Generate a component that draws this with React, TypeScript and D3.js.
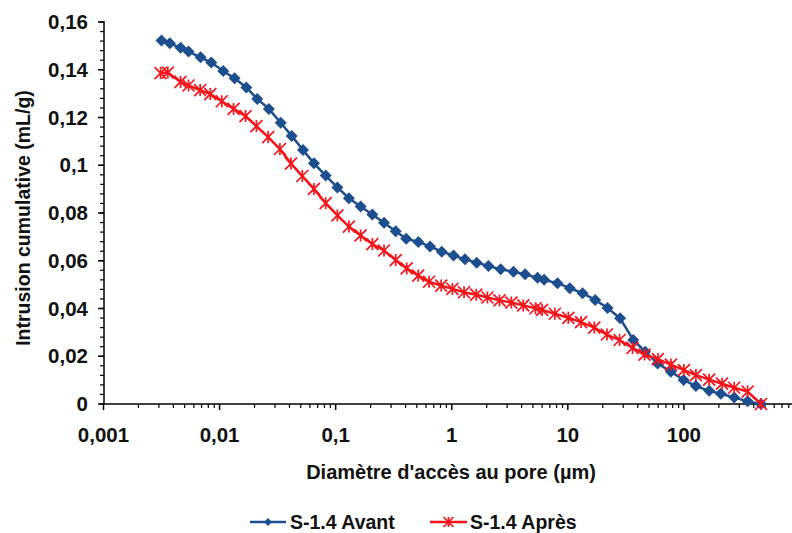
import React from 'react';
import * as d3 from 'd3';

const avantDiam = [0.00316, 0.00373, 0.00461, 0.0054, 0.00686, 0.00848, 0.01076, 0.01346, 0.017, 0.0211, 0.0266, 0.0336, 0.0418, 0.0523, 0.065, 0.082, 0.1035, 0.13, 0.164, 0.207, 0.261, 0.329, 0.405, 0.516, 0.65, 0.82, 1.035, 1.3, 1.64, 2.07, 2.64, 3.4, 4.28, 5.48, 6.25, 8.15, 10.4, 13.4, 17.2, 22.0, 28.2, 36.6, 46.4, 59.3, 77.2, 99.4, 126.8, 165, 208, 271, 354, 461];
const avantVol = [0.1522, 0.1511, 0.1492, 0.1476, 0.1452, 0.143, 0.1395, 0.1364, 0.1326, 0.1278, 0.1236, 0.1178, 0.1123, 0.1064, 0.1008, 0.0957, 0.0907, 0.0862, 0.0827, 0.0794, 0.0759, 0.0724, 0.0692, 0.0679, 0.066, 0.0638, 0.0622, 0.0606, 0.0592, 0.0578, 0.0564, 0.0554, 0.0543, 0.0529, 0.052, 0.0506, 0.0485, 0.0464, 0.0436, 0.0402, 0.0359, 0.0268, 0.0219, 0.017, 0.0135, 0.0101, 0.0075, 0.0055, 0.0043, 0.0027, 0.0011, 0];

const apresDiam = [0.0031, 0.00358, 0.00461, 0.0054, 0.0068, 0.00832, 0.01045, 0.0132, 0.01675, 0.02076, 0.0262, 0.0331, 0.0412, 0.0516, 0.065, 0.082, 0.1035, 0.13, 0.164, 0.207, 0.261, 0.329, 0.409, 0.514, 0.637, 0.811, 1.013, 1.276, 1.626, 2.03, 2.58, 3.26, 4.13, 5.27, 6.0, 7.73, 10.1, 13.0, 16.9, 21.7, 27.9, 36.1, 45.8, 59.7, 77.3, 100, 126.8, 165, 213, 271, 354, 461];
const apresVol = [0.1386, 0.1388, 0.1349, 0.1334, 0.1315, 0.1298, 0.1268, 0.1236, 0.1206, 0.1164, 0.1118, 0.1068, 0.1007, 0.0955, 0.0901, 0.0841, 0.079, 0.0743, 0.0706, 0.067, 0.0643, 0.0603, 0.0568, 0.0538, 0.0512, 0.0496, 0.0482, 0.0468, 0.0458, 0.0446, 0.0434, 0.0425, 0.0413, 0.0401, 0.0394, 0.0378, 0.0361, 0.0343, 0.032, 0.0291, 0.0268, 0.0235, 0.0207, 0.0188, 0.0165, 0.0142, 0.0121, 0.0102, 0.0085, 0.0068, 0.0052, 0];

const xTickValues = [0.001, 0.01, 0.1, 1, 10, 100];
const xTickLabels = ['0,001', '0,01', '0,1', '1', '10', '100'];
const yTickValues = [0, 0.02, 0.04, 0.06, 0.08, 0.1, 0.12, 0.14, 0.16];
const yTickLabels = ['0', '0,02', '0,04', '0,06', '0,08', '0,1', '0,12', '0,14', '0,16'];
const seriesNames = ['S-1.4 Avant', 'S-1.4 Après'];
const xTitle = "Diamètre d'accès au pore (µm)";
const yTitle = 'Intrusion cumulative (mL/g)';

const BLUE = '#1d4f8f';
const RED = '#f5141b';
const FONT = "'Liberation Sans', Arial, sans-serif";

function Diamond({ cx, cy, r }: { cx: number; cy: number; r: number }) {
  return <path d={`M${cx},${cy - r}L${cx + r},${cy}L${cx},${cy + r}L${cx - r},${cy}Z`} fill={BLUE} />;
}
function Star({ cx, cy, r }: { cx: number; cy: number; r: number }) {
  return (
    <path
      d={`M${cx - r},${cy - r}L${cx + r},${cy + r}M${cx - r},${cy + r}L${cx + r},${cy - r}M${cx},${cy - r}L${cx},${cy + r}`}
      stroke={RED}
      strokeWidth={1.7}
      fill="none"
    />
  );
}

export default function App() {
  const W = 792;
  const H = 533;
  const x = d3.scaleLog().domain([0.001, 1000]).range([103.5, 800]);
  const y = d3.scaleLinear().domain([0, 0.16]).range([404, 22]);
  const axisLeft = 104;
  const axisBottom = 404;

  const avant = avantDiam.map((d, i) => [d, avantVol[i]] as [number, number]);
  const apres = apresDiam.map((d, i) => [d, apresVol[i]] as [number, number]);
  const line = d3
    .line<[number, number]>()
    .x((d) => x(d[0]))
    .y((d) => y(d[1]));

  const minorX: number[] = [];
  for (let e = -3; e <= 2; e++) {
    for (let k = 2; k <= 9; k++) {
      const v = k * Math.pow(10, e);
      if (x(v) <= W) minorX.push(v);
    }
  }
  const minorY = d3.range(0, 0.1601, 0.004);

  return (
    <svg
      width={W}
      height={H}
      style={{ position: 'absolute', left: 0, top: 0, background: '#fff' }}
      fontFamily={FONT}
    >
      <rect width={W} height={H} fill="#fff" />
      {/* y axis */}
      <line x1={axisLeft} x2={axisLeft} y1={y(0.16) - 1} y2={axisBottom} stroke="#000" strokeWidth={1.5} />
      {minorY.map((v, i) => (
        <line key={'my' + i} x1={axisLeft - 4} x2={axisLeft} y1={y(v)} y2={y(v)} stroke="#000" strokeWidth={1.2} />
      ))}
      {yTickValues.map((v, i) => (
        <g key={'yt' + i}>
          <line x1={axisLeft - 6} x2={axisLeft} y1={y(v)} y2={y(v)} stroke="#000" strokeWidth={1.5} />
          <text x={88} y={y(v) + 7} textAnchor="end" fontSize={20.5} fontWeight="bold" fill="#111">
            {yTickLabels[i]}
          </text>
        </g>
      ))}
      {/* x axis */}
      <line x1={axisLeft} x2={W} y1={axisBottom} y2={axisBottom} stroke="#000" strokeWidth={1.5} />
      {minorX.map((v, i) => (
        <line key={'mx' + i} x1={x(v)} x2={x(v)} y1={axisBottom} y2={axisBottom + 4} stroke="#000" strokeWidth={1.2} />
      ))}
      {xTickValues.map((v, i) => (
        <g key={'xt' + i}>
          <line x1={x(v)} x2={x(v)} y1={axisBottom} y2={axisBottom + 6} stroke="#000" strokeWidth={1.5} />
          <text x={x(v)} y={442} textAnchor="middle" fontSize={20.5} fontWeight="bold" fill="#111">
            {xTickLabels[i]}
          </text>
        </g>
      ))}
      {/* titles */}
      <text x={451} y={479} textAnchor="middle" fontSize={20} fontWeight="bold" fill="#111">
        {xTitle}
      </text>
      <text
        transform={`translate(30,218) rotate(-90)`}
        textAnchor="middle"
        fontSize={19.5}
        fontWeight="bold"
        fill="#111"
      >
        {yTitle}
      </text>
      {/* series */}
      <path d={line(avant) || ''} fill="none" stroke={BLUE} strokeWidth={2.5} />
      {avant.map((d, i) => (
        <Diamond key={'a' + i} cx={x(d[0])} cy={y(d[1])} r={6} />
      ))}
      <path d={line(apres) || ''} fill="none" stroke={RED} strokeWidth={2.5} />
      {apres.map((d, i) => (
        <Star key={'p' + i} cx={x(d[0])} cy={y(d[1])} r={6} />
      ))}
      {/* legend */}
      <g>
        <line x1={250} x2={286} y1={522} y2={522} stroke={BLUE} strokeWidth={2.5} />
        <Diamond cx={268} cy={522} r={4} />
        <text x={290} y={529} fontSize={19.5} fontWeight="bold" fill="#111">
          {seriesNames[0]}
        </text>
        <line x1={430} x2={467} y1={522} y2={522} stroke={RED} strokeWidth={2.5} />
        <Star cx={448.5} cy={522} r={5} />
        <text x={470} y={529} fontSize={19.5} fontWeight="bold" fill="#111">
          {seriesNames[1]}
        </text>
      </g>
    </svg>
  );
}
